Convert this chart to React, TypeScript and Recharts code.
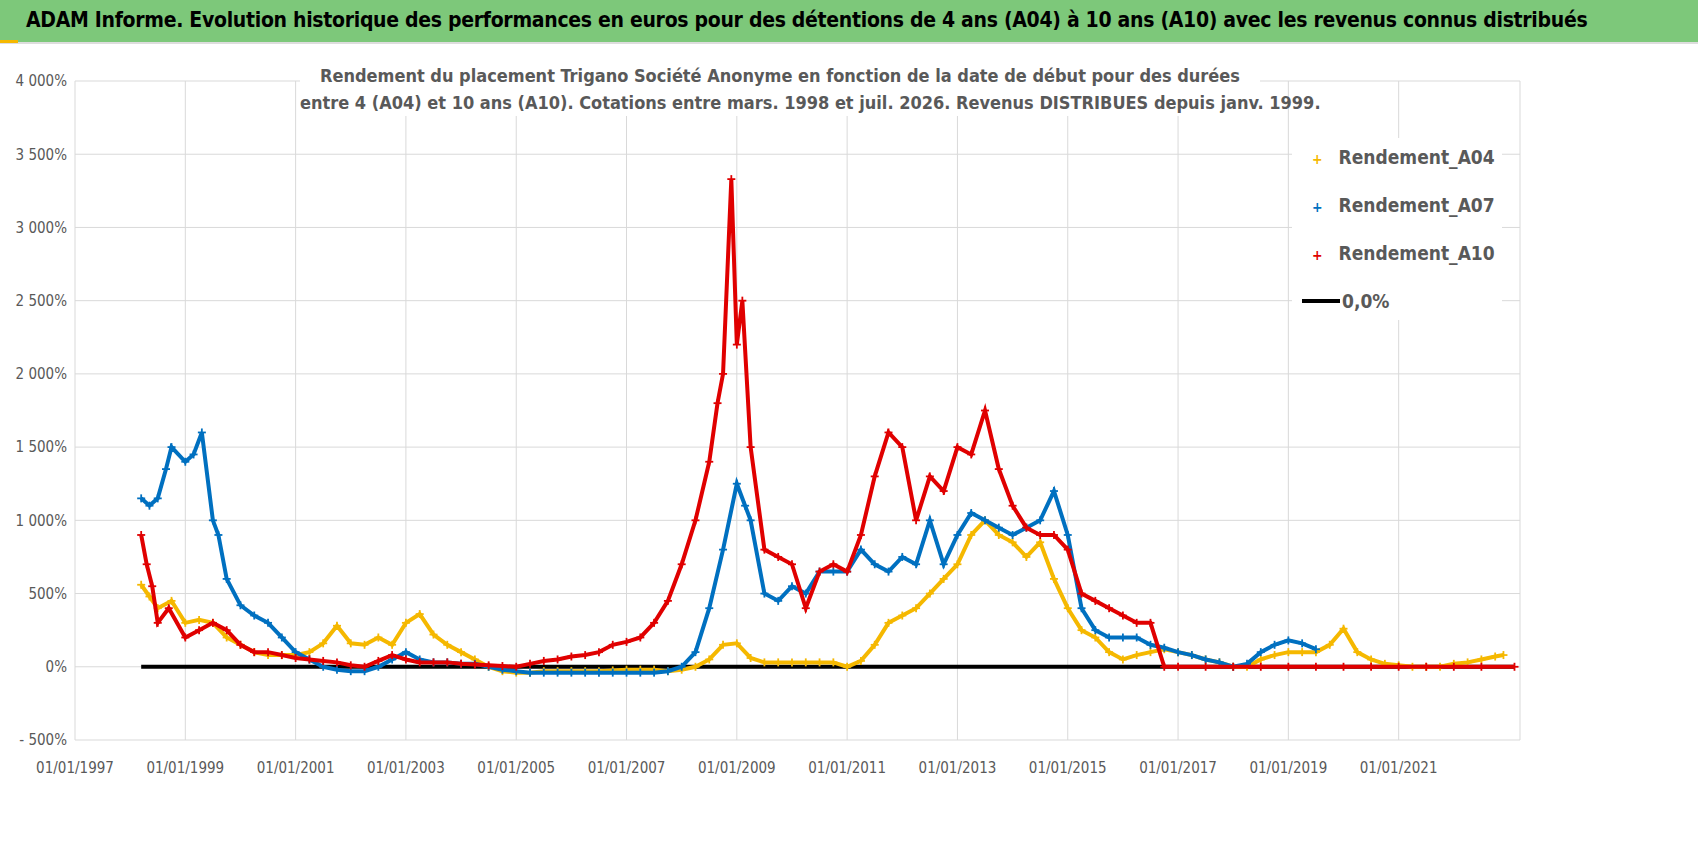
import React from "react";
import { ComposedChart, Scatter, XAxis, YAxis, CartesianGrid } from "recharts";

const xTicks = [1997, 1999, 2001, 2003, 2005, 2007, 2009, 2011, 2013, 2015, 2017, 2019, 2021];
const yTicks = [-500, 0, 500, 1000, 1500, 2000, 2500, 3000, 3500, 4000];

// [year, rendement %]
const a04: [number, number][] = [
  [1998.2, 560], [1998.35, 480], [1998.5, 400], [1998.75, 450], [1999, 300], [1999.25, 320], [1999.5, 300],
  [1999.75, 200], [2000, 150], [2000.25, 100], [2000.5, 80], [2000.75, 80], [2001, 80], [2001.25, 100],
  [2001.5, 160], [2001.75, 280], [2002, 160], [2002.25, 150], [2002.5, 200], [2002.75, 150], [2003, 300],
  [2003.25, 360], [2003.5, 220], [2003.75, 150], [2004, 100], [2004.25, 50], [2004.5, 0], [2004.75, -30],
  [2005, -40], [2005.25, -40], [2005.5, -30], [2005.75, -30], [2006, -30], [2006.25, -30], [2006.5, -30],
  [2006.75, -25], [2007, -20], [2007.25, -20], [2007.5, -20], [2007.75, -30], [2008, -20], [2008.25, 0],
  [2008.5, 50], [2008.75, 150], [2009, 160], [2009.25, 60], [2009.5, 30], [2009.75, 30], [2010, 30],
  [2010.25, 30], [2010.5, 30], [2010.75, 30], [2011, 0], [2011.25, 40], [2011.5, 150], [2011.75, 300],
  [2012, 350], [2012.25, 400], [2012.5, 500], [2012.75, 600], [2013, 700], [2013.25, 900], [2013.5, 1000],
  [2013.75, 900], [2014, 850], [2014.25, 750], [2014.5, 850], [2014.75, 600], [2015, 400], [2015.25, 250],
  [2015.5, 200], [2015.75, 100], [2016, 50], [2016.25, 80], [2016.5, 100], [2016.75, 120], [2017, 100],
  [2017.25, 80], [2017.5, 50], [2017.75, 30], [2018, 0], [2018.25, 0], [2018.5, 50], [2018.75, 80],
  [2019, 100], [2019.25, 100], [2019.5, 100], [2019.75, 150], [2020, 260], [2020.25, 100], [2020.5, 50],
  [2020.75, 20], [2021, 10], [2021.25, 0], [2021.5, 0], [2021.75, 0], [2022, 20], [2022.25, 30],
  [2022.5, 50], [2022.75, 70], [2022.9, 80],
];

const a07: [number, number][] = [
  [1998.2, 1150], [1998.35, 1100], [1998.5, 1150], [1998.65, 1350], [1998.75, 1500], [1999, 1400],
  [1999.15, 1450], [1999.3, 1600], [1999.5, 1000], [1999.6, 900], [1999.75, 600], [2000, 420],
  [2000.25, 350], [2000.5, 300], [2000.75, 200], [2001, 100], [2001.25, 50], [2001.5, 0], [2001.75, -20],
  [2002, -30], [2002.25, -30], [2002.5, 0], [2002.75, 50], [2003, 100], [2003.25, 50], [2003.5, 30],
  [2003.75, 30], [2004, 20], [2004.25, 20], [2004.5, 0], [2004.75, -20], [2005, -30], [2005.25, -40],
  [2005.5, -40], [2005.75, -40], [2006, -40], [2006.25, -40], [2006.5, -40], [2006.75, -40], [2007, -40],
  [2007.25, -40], [2007.5, -40], [2007.75, -30], [2008, 0], [2008.25, 100], [2008.5, 400], [2008.75, 800],
  [2009, 1250], [2009.15, 1100], [2009.25, 1000], [2009.5, 500], [2009.75, 450], [2010, 550], [2010.25, 500],
  [2010.5, 650], [2010.75, 650], [2011, 650], [2011.25, 800], [2011.5, 700], [2011.75, 650], [2012, 750],
  [2012.25, 700], [2012.5, 1000], [2012.75, 700], [2013, 900], [2013.25, 1050], [2013.5, 1000],
  [2013.75, 950], [2014, 900], [2014.25, 950], [2014.5, 1000], [2014.75, 1200], [2015, 900], [2015.25, 400],
  [2015.5, 250], [2015.75, 200], [2016, 200], [2016.25, 200], [2016.5, 150], [2016.75, 130], [2017, 100],
  [2017.25, 80], [2017.5, 50], [2017.75, 30], [2018, 0], [2018.25, 20], [2018.5, 100], [2018.75, 150],
  [2019, 180], [2019.25, 160], [2019.5, 120],
];

const a10: [number, number][] = [
  [1998.2, 900], [1998.3, 700], [1998.4, 550], [1998.5, 300], [1998.7, 400], [1999, 200], [1999.25, 250],
  [1999.5, 300], [1999.75, 250], [2000, 150], [2000.25, 100], [2000.5, 100], [2000.75, 80], [2001, 60],
  [2001.25, 50], [2001.5, 40], [2001.75, 30], [2002, 10], [2002.25, 0], [2002.5, 40], [2002.75, 80],
  [2003, 50], [2003.25, 30], [2003.5, 30], [2003.75, 30], [2004, 20], [2004.25, 15], [2004.5, 10],
  [2004.75, 5], [2005, 0], [2005.25, 20], [2005.5, 40], [2005.75, 50], [2006, 70], [2006.25, 80],
  [2006.5, 100], [2006.75, 150], [2007, 170], [2007.25, 200], [2007.5, 300], [2007.75, 450], [2008, 700],
  [2008.25, 1000], [2008.5, 1400], [2008.65, 1800], [2008.75, 2000], [2008.9, 3330], [2009, 2200],
  [2009.1, 2500], [2009.25, 1500], [2009.5, 800], [2009.75, 750], [2010, 700], [2010.25, 400], [2010.5, 650],
  [2010.75, 700], [2011, 650], [2011.25, 900], [2011.5, 1300], [2011.75, 1600], [2012, 1500], [2012.25, 1000],
  [2012.5, 1300], [2012.75, 1200], [2013, 1500], [2013.25, 1450], [2013.5, 1750], [2013.75, 1350],
  [2014, 1100], [2014.25, 950], [2014.5, 900], [2014.75, 900], [2015, 800], [2015.25, 500], [2015.5, 450],
  [2015.75, 400], [2016, 350], [2016.25, 300], [2016.5, 300], [2016.75, 0], [2017, 0], [2017.5, 0],
  [2018, 0], [2018.5, 0], [2019, 0], [2019.5, 0], [2020, 0], [2020.5, 0], [2021, 0], [2021.5, 0],
  [2022, 0], [2022.5, 0], [2023.1, 0],
];

const zero: [number, number][] = [[1998.2, 0], [2023.1, 0]];

const toPts = (arr: [number, number][]) => arr.map(([x, y]) => ({ x, y }));

const FONT = "'DejaVu Sans Condensed', 'Liberation Sans Narrow', sans-serif";

const Plus = (color: string) => (props: any) => {
  const { cx, cy } = props;
  if (cx == null || cy == null) return <g />;
  return (
    <g stroke={color} strokeWidth={1.8}>
      <line x1={cx - 4} y1={cy} x2={cx + 4} y2={cy} />
      <line x1={cx} y1={cy - 4} x2={cx} y2={cy + 4} />
    </g>
  );
};

const fmtY = (v: number) => {
  const s = Math.abs(v).toString().replace(/\B(?=(\d{3})+(?!\d))/g, " ");
  return (v < 0 ? "- " : "") + s + "%";
};

const legend = [
  { label: "Rendement_A04", color: "#f5b800" },
  { label: "Rendement_A07", color: "#0070c0" },
  { label: "Rendement_A10", color: "#e00000" },
];

export default function App() {
  return (
    <div style={{ position: "fixed", left: 0, top: 0, width: 1698, height: 856, background: "#fff", fontFamily: FONT }}>
      <div style={{ position: "absolute", left: 0, top: 0, width: 1698, height: 42, background: "#7dc87a", borderBottom: "2px solid #ddd" }}>
        <div style={{ position: "absolute", left: 0, top: 40, width: 18, height: 3, background: "#f5b800" }} />
        <div style={{ position: "absolute", left: 26, top: 8, fontSize: 21, fontWeight: 700, color: "#000", whiteSpace: "nowrap", letterSpacing: -0.3 }}>
          ADAM Informe. Evolution historique des performances en euros pour des détentions de 4 ans (A04) à 10 ans (A10) avec les revenus connus distribués
        </div>
      </div>
      <ComposedChart width={1698} height={856} margin={{ top: 81, right: 178, bottom: 86, left: 15 }}>
        <CartesianGrid stroke="#d9d9d9" />
        <XAxis type="number" dataKey="x" domain={[1997, 2023.2]} ticks={xTicks} allowDataOverflow
          tickFormatter={(v: number) => "01/01/" + v} axisLine={false} tickLine={false}
          tick={{ fill: "#595959", fontSize: 15, fontFamily: FONT, dy: 14 }} height={30} />
        <YAxis type="number" dataKey="y" domain={[-500, 4000]} ticks={yTicks} tickFormatter={fmtY}
          axisLine={false} tickLine={false} width={60} tick={{ fill: "#595959", fontSize: 15, fontFamily: FONT }} />
        <Scatter data={toPts(zero)} line={{ stroke: "#000", strokeWidth: 4 }} shape={() => <g />} isAnimationActive={false} />
        <Scatter data={toPts(a04)} fill="#f5b800" line={{ stroke: "#f5b800", strokeWidth: 4 }} shape={Plus("#f5b800")} isAnimationActive={false} />
        <Scatter data={toPts(a07)} fill="#0070c0" line={{ stroke: "#0070c0", strokeWidth: 4 }} shape={Plus("#0070c0")} isAnimationActive={false} />
        <Scatter data={toPts(a10)} fill="#e00000" line={{ stroke: "#e00000", strokeWidth: 4 }} shape={Plus("#e00000")} isAnimationActive={false} />
      </ComposedChart>
      <div style={{ position: "absolute", left: 300, top: 62, width: 960, background: "#fff", textAlign: "center", fontSize: 18, fontWeight: 700, color: "#595959", lineHeight: "27px", whiteSpace: "nowrap" }}>
        Rendement du placement Trigano Société Anonyme en fonction de la date de début pour des durées<br />
        entre 4 (A04) et 10 ans (A10). Cotations entre mars. 1998 et juil. 2026. Revenus DISTRIBUES depuis janv. 1999.
      </div>
      <div style={{ position: "absolute", left: 1292, top: 138, width: 210, height: 182, background: "#fff" }}>
        {legend.map((l, i) => (
          <div key={l.label} style={{ position: "absolute", left: 20, top: 8 + i * 48, fontSize: 19, fontWeight: 700, color: "#595959", whiteSpace: "nowrap" }}>
            <span style={{ color: l.color, fontSize: 14, marginRight: 16 }}>+</span>{l.label}
          </div>
        ))}
        <div style={{ position: "absolute", left: 10, top: 152, fontSize: 19, fontWeight: 700, color: "#595959", display: "flex", alignItems: "center" }}>
          <span style={{ display: "inline-block", width: 38, height: 4, background: "#000", marginRight: 2 }} />0,0%
        </div>
      </div>
    </div>
  );
}
